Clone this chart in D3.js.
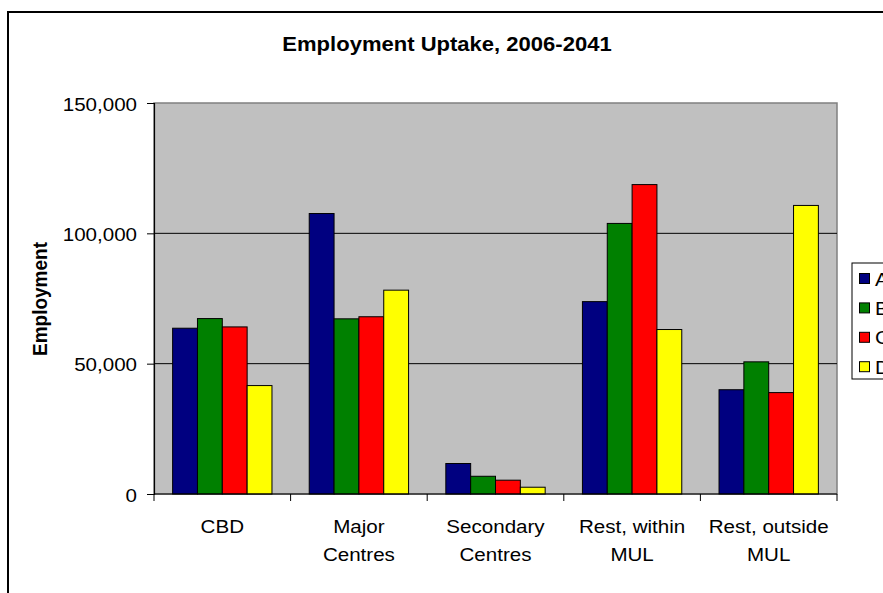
<!DOCTYPE html>
<html><head><meta charset="utf-8">
<script src="https://cdn.jsdelivr.net/npm/d3@7"></script>
<style>html,body{margin:0;padding:0;background:#fff;overflow:hidden}</style>
</head><body>
<svg id="c" width="883" height="593"></svg>
<script>
const categories = [["CBD"],["Major","Centres"],["Secondary","Centres"],["Rest, within","MUL"],["Rest, outside","MUL"]];
const seriesNames = ["A","B","C","D"];
const seriesColors = ["#000080","#008000","#FF0000","#FFFF00"];
const valuesA = [63600,107600,11700,73800,40000];
const valuesB = [67300,67200,6800,103800,50700];
const valuesC = [64100,68000,5300,118700,38900];
const valuesD = [41600,78200,2600,63100,110700];
const yTicks = [0,50000,100000,150000];
const seriesValues = [valuesA,valuesB,valuesC,valuesD];

const svg = d3.select("#c");
const font = "'Liberation Sans', Arial, sans-serif";
const SX = 1.1;

// outer chart border
svg.append("rect").attr("x",8).attr("y",12).attr("width",900).attr("height",600)
  .attr("fill","#fff").attr("stroke","#000").attr("stroke-width",2);

const L=154, R=837, T=103, B=494;
const x0 = d3.scaleBand().domain(categories.map((d,i)=>i)).range([L,R]).padding(0);
const x1 = d3.scaleBand().domain(seriesNames).range([0,x0.bandwidth()]).paddingInner(0).paddingOuter(0.75);
const y = d3.scaleLinear().domain([0,150000]).range([B,T]);

// plot area
svg.append("rect").attr("x",L).attr("y",T).attr("width",R-L).attr("height",B-T)
  .attr("fill","#C0C0C0").attr("stroke","#808080").attr("stroke-width",1.5);

// gridlines
svg.append("g").selectAll("line").data(yTicks.filter(t=>t>0 && t<150000)).join("line")
  .attr("x1",L).attr("x2",R).attr("y1",d=>y(d)).attr("y2",d=>y(d))
  .attr("stroke","#000").attr("stroke-width",1);

// bars
const g = svg.append("g");
seriesNames.forEach((s,si)=>{
  g.selectAll(".b"+si).data(seriesValues[si]).join("rect")
    .attr("x",(d,i)=>x0(i)+x1(s)).attr("width",x1.bandwidth())
    .attr("y",d=>y(d)).attr("height",d=>B-y(d))
    .attr("fill",seriesColors[si]).attr("stroke","#000").attr("stroke-width",1);
});

// y axis
const yAxis = d3.axisLeft(y).tickValues(yTicks).tickSize(7).tickPadding(10).tickFormat(d3.format(","));
const ya = svg.append("g").attr("transform",`translate(${L},0)`).call(yAxis);
ya.select(".domain").attr("stroke","#000").attr("stroke-width",1.2);
ya.selectAll(".tick line").attr("stroke","#000");
ya.selectAll(".tick text").attr("font-family",font).attr("font-size",18.7).attr("fill","#000")
  .attr("dy",null).attr("y",7)
  .attr("transform",`translate(-17,0) scale(${SX},1) translate(17,0)`)
  .each(function(){ const t=d3.select(this); t.attr("transform",`translate(-17,0) scale(${SX},1) translate(17,0)`); });

// x axis line and ticks
svg.append("line").attr("x1",L).attr("x2",R).attr("y1",B).attr("y2",B).attr("stroke","#000").attr("stroke-width",1.2);
const bounds = categories.map((d,i)=>x0(i)).concat([R]);
svg.append("g").selectAll("line").data(bounds).join("line")
  .attr("x1",d=>d).attr("x2",d=>d).attr("y1",B).attr("y2",B+7).attr("stroke","#000");

// category labels
categories.forEach((lines,i)=>{
  const cx = x0(i)+x0.bandwidth()/2;
  lines.forEach((ln,j)=>{
    svg.append("text").attr("transform",`translate(${cx},${533+j*28}) scale(${SX},1)`)
      .attr("text-anchor","middle").attr("font-family",font).attr("font-size",18.7).text(ln);
  });
});

// title
svg.append("text").attr("transform",`translate(447,51) scale(1.13,1)`)
  .attr("text-anchor","middle").attr("font-family",font).attr("font-weight","bold")
  .attr("font-size",19.5).text("Employment Uptake, 2006-2041");

// y label
svg.append("text").attr("transform","translate(47,299) rotate(-90) scale(1,1.05)")
  .attr("text-anchor","middle").attr("font-family",font).attr("font-weight","bold")
  .attr("font-size",19).text("Employment");

// legend
const lg = svg.append("g");
lg.append("rect").attr("x",852).attr("y",263).attr("width",60).attr("height",116)
  .attr("fill","#fff").attr("stroke","#000").attr("stroke-width",1);
seriesNames.forEach((s,i)=>{
  const cy = 278.5 + i*29.4;
  lg.append("rect").attr("x",859.5).attr("y",cy-5).attr("width",10).attr("height",10)
    .attr("fill",seriesColors[i]).attr("stroke","#000").attr("stroke-width",1);
  lg.append("text").attr("transform",`translate(875,${cy+7}) scale(${SX},1)`)
    .attr("font-family",font).attr("font-size",18.7).text(s);
});
</script>
</body></html>
